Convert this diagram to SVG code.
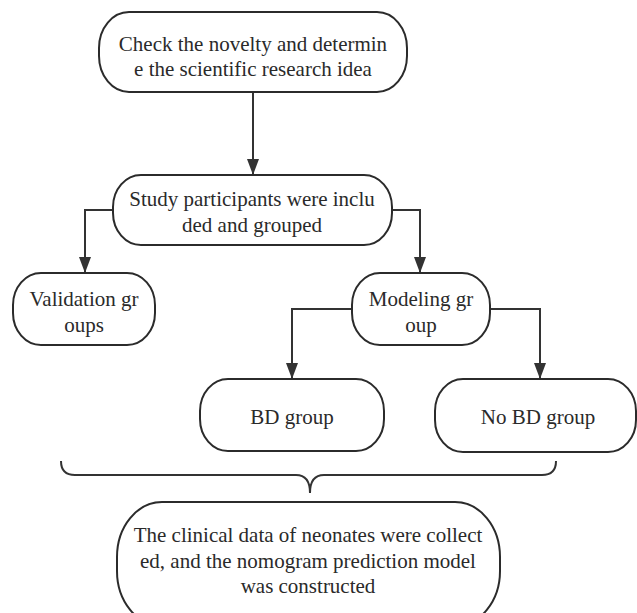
<svg xmlns="http://www.w3.org/2000/svg" width="637" height="613" viewBox="0 0 637 613">
<defs>
<style>
.n{fill:#fff;stroke:#2b2b2b;stroke-width:2}
.t{font-family:'Liberation Serif','Times New Roman',serif;font-size:21px;fill:#2a2a2a;text-anchor:middle}
.c{fill:none;stroke:#333;stroke-width:2}
</style>
<marker id="ah" viewBox="0 0 16 12" refX="16" refY="6" markerWidth="16" markerHeight="12" markerUnits="userSpaceOnUse" orient="auto">
<path d="M0,0 L16,6 L0,12 Z" fill="#333"/>
</marker>
</defs>
<rect width="637" height="613" fill="#fff"/>
<g id="connectors">
<path class="c" d="M253,92 V175" marker-end="url(#ah)"/>
<path class="c" d="M113,210 H85 V273" marker-end="url(#ah)"/>
<path class="c" d="M392,210 H420 V273" marker-end="url(#ah)"/>
<path class="c" d="M352,309 H292 V379" marker-end="url(#ah)"/>
<path class="c" d="M490,309 H540 V379" marker-end="url(#ah)"/>
<path class="c" d="M61,461 Q61,475 75,475 L296,475 Q310,475 310,493 Q310,475 324,475 L542,475 Q556,475 556,461"/>
</g>
<g id="n1">
<rect class="n" x="99" y="12" width="308" height="80" rx="30" ry="36"/>
<text class="t" x="253" y="51">Check the novelty and determin</text>
<text class="t" x="253" y="76">e the scientific research idea</text>
</g>
<g id="n2">
<rect class="n" x="113" y="175" width="279" height="70" rx="28" ry="32"/>
<text class="t" x="252" y="206">Study participants were inclu</text>
<text class="t" x="252" y="232">ded and grouped</text>
</g>
<g id="n3">
<rect class="n" x="13" y="273" width="142" height="72" rx="28" ry="32"/>
<text class="t" x="84" y="306">Validation gr</text>
<text class="t" x="84" y="332">oups</text>
</g>
<g id="n4">
<rect class="n" x="352" y="273" width="138" height="72" rx="28" ry="32"/>
<text class="t" x="421" y="306">Modeling gr</text>
<text class="t" x="421" y="332">oup</text>
</g>
<g id="n5">
<rect class="n" x="200" y="379" width="184" height="72" rx="28" ry="32"/>
<text class="t" x="292" y="424">BD group</text>
</g>
<g id="n6">
<rect class="n" x="435" y="379" width="201" height="73" rx="28" ry="32"/>
<text class="t" x="538" y="424">No BD group</text>
</g>
<g id="n7">
<rect class="n" x="117" y="502" width="383" height="124" rx="45" ry="55"/>
<text class="t" x="308" y="542">The clinical data of neonates were collect</text>
<text class="t" x="308" y="568">ed, and the nomogram prediction model</text>
<text class="t" x="308" y="593">was constructed</text>
</g>
</svg>
